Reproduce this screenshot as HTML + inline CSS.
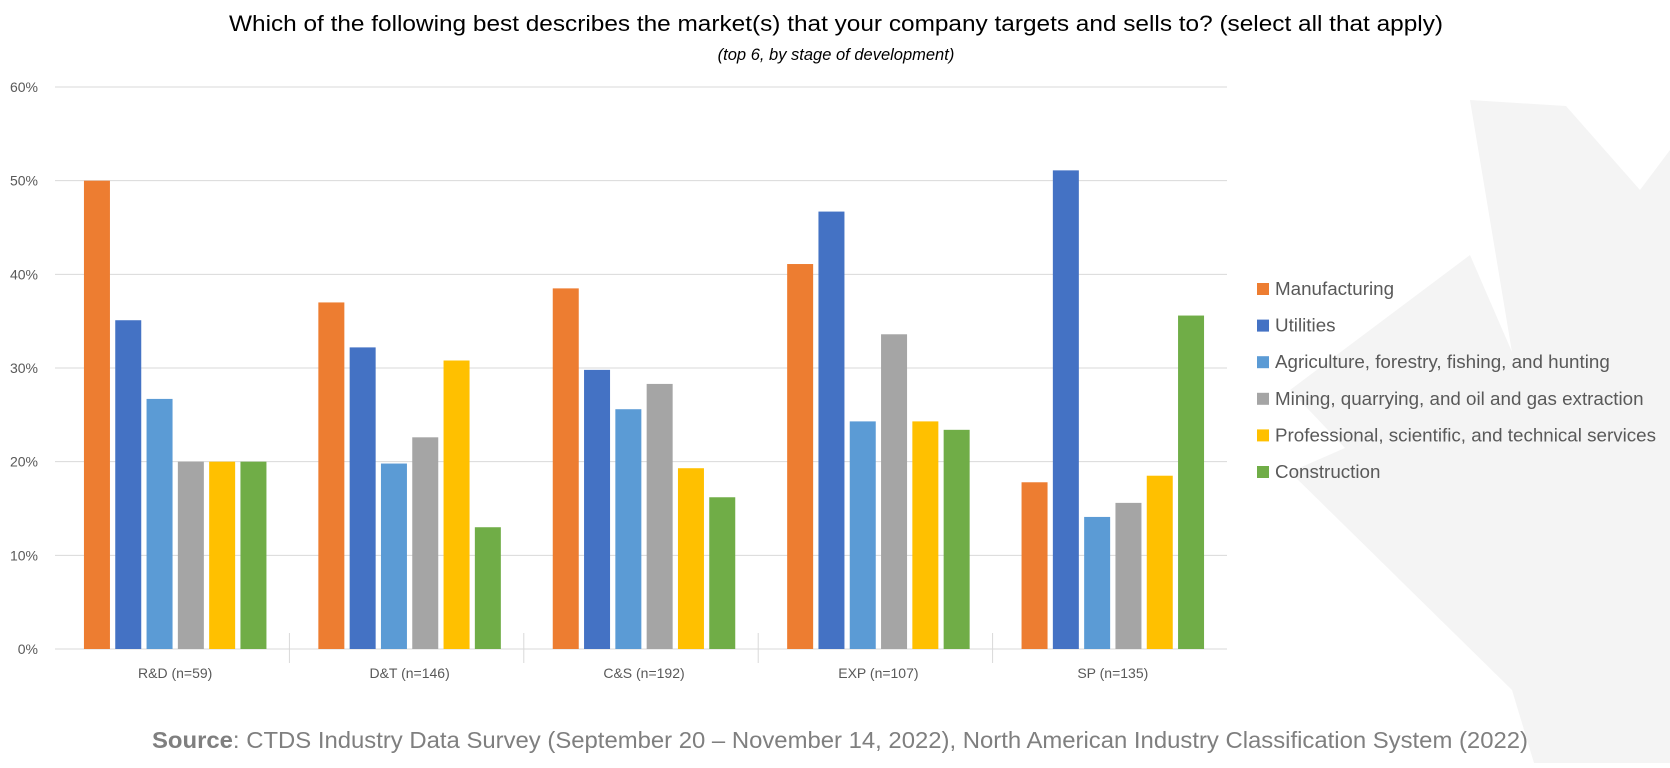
<!DOCTYPE html>
<html><head><meta charset="utf-8">
<style>
html,body{margin:0;padding:0;background:#fff;}
body{width:1670px;height:763px;overflow:hidden;font-family:"Liberation Sans",sans-serif;}
</style></head>
<body>
<svg id="chart" width="1670" height="763" xmlns="http://www.w3.org/2000/svg" font-family="Liberation Sans, sans-serif">
<polygon fill="#f4f4f4" points="1566,106 1640,190 1670,150 1670,763 1534,763 1512,690 1290,472 1345,448 1290,390 1470,255 1512,352 1470,100"/>
<text x="836" y="31" font-size="22.5" text-anchor="middle" fill="#000" textLength="1214" lengthAdjust="spacingAndGlyphs">Which of the following best describes the market(s) that your company targets and sells to? (select all that apply)</text>
<text x="836" y="60" font-size="16.5" font-style="italic" text-anchor="middle" fill="#000">(top 6, by stage of development)</text>
<g id="grid"></g><g id="bars"></g><g id="legend"></g>
<text x="840" y="748" font-size="23.5" text-anchor="middle" fill="#7f7f7f" textLength="1376" lengthAdjust="spacingAndGlyphs"><tspan font-weight="bold">Source</tspan>: CTDS Industry Data Survey (September 20 – November 14, 2022), North American Industry Classification System (2022)</text>
</svg>
<script>
const categories = ["R&D (n=59)","D&T (n=146)","C&S (n=192)","EXP (n=107)","SP (n=135)"];
const seriesNames = ["Manufacturing","Utilities","Agriculture, forestry, fishing, and hunting","Mining, quarrying, and oil and gas extraction","Professional, scientific, and technical services","Construction"];
const manufacturing = [50, 37, 38.5, 41.1, 17.8];
const utilities = [35.1, 32.2, 29.8, 46.7, 51.1];
const agriculture = [26.7, 19.8, 25.6, 24.3, 14.1];
const mining = [20, 22.6, 28.3, 33.6, 15.6];
const professional = [20, 30.8, 19.3, 24.3, 18.5];
const construction = [20, 13, 16.2, 23.4, 35.6];
const yTicks = [0,10,20,30,40,50,60];
const colors = ["#ed7d31","#4472c4","#5b9bd5","#a5a5a5","#ffc000","#70ad47"];
const series = [manufacturing, utilities, agriculture, mining, professional, construction];
const NS="http://www.w3.org/2000/svg";
const L=55,R=1227,Y0=649,Y60=87;
const y=v=>Y0-(v/60)*(Y0-Y60);
const cw=(R-L)/categories.length;
const x=i=>L+i*cw;
function mk(tag,attrs,parent){const e=document.createElementNS(NS,tag);for(const k in attrs)e.setAttribute(k,attrs[k]);parent.appendChild(e);return e;}
const grid=document.getElementById('grid'),bars=document.getElementById('bars'),leg=document.getElementById('legend');
yTicks.forEach(t=>{
  const ln=mk('line',{x1:L,x2:R,y1:y(t),y2:y(t),stroke:'#d9d9d9','stroke-width':1},grid);
  
  
  const tx=mk('text',{x:38,y:y(t)+5,'font-size':14,'text-anchor':'end',fill:'#595959'},grid);
  tx.textContent=t+'%';
  
  
});
for(let i=1;i<categories.length;i++){
  const tk=mk('line',{x1:x(i),x2:x(i),y1:Y0-16,y2:Y0+14,stroke:'#d9d9d9'},grid);
  
  
}
const bw=26,stride=31.3;
categories.forEach((c,i)=>{
  const start=x(i)+cw/2-(stride*6-(stride-bw))/2+3;
  series.forEach((s,j)=>{
    const r=mk('rect',{x:start+j*stride,y:y(s[i]),width:bw,height:Y0-y(s[i]),fill:colors[j]},bars);
    
    
  });
  const t=mk('text',{x:x(i)+cw/2+3,y:678,'font-size':14,'text-anchor':'middle',fill:'#595959'},bars);
  t.textContent=c;
  
  
});
seriesNames.forEach((n,j)=>{
  const yy=289+j*36.6;
  const r=mk('rect',{x:1257,y:yy-6,width:12,height:12,fill:colors[j]},leg);
  
  
  const t=mk('text',{x:1275,y:yy+6,'font-size':18.8,fill:'#595959'},leg);
  t.textContent=n;
  
  
});
</script>
</body></html>
